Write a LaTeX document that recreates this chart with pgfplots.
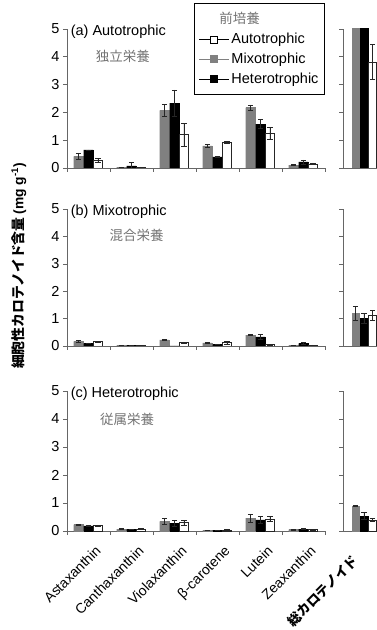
\documentclass[border=0pt]{standalone}
\usepackage{fontspec}
\setmainfont{Liberation Sans}
\newfontfamily\cjk{Noto Sans CJK JP}
\usepackage{pgfplots}
\usepackage{pgfplotstable}
\pgfplotsset{compat=1.18}

\pgfplotstableread{
x g ge b be w we
0 0.42 0.12 0.65 0.00 0.27 0.07
1 0.03 0.01 0.08 0.12 0.03 0.01
2 2.07 0.22 2.33 0.48 1.20 0.42
3 0.80 0.05 0.40 0.02 0.93 0.04
4 2.17 0.10 1.58 0.17 1.25 0.22
5 0.10 0.02 0.22 0.07 0.15 0.03
}\tA
\pgfplotstableread{
x g ge b be w we
0 6.00 0.00 5.60 0.00 3.82 0.63
}\tAt
\pgfplotstableread{
x g ge b be w we
0 0.17 0.02 0.10 0.01 0.16 0.02
1 0.02 0.00 0.02 0.00 0.02 0.00
2 0.22 0.02 0.00 0.00 0.12 0.03
3 0.11 0.02 0.06 0.01 0.12 0.05
4 0.40 0.02 0.33 0.10 0.05 0.01
5 0.02 0.00 0.10 0.02 0.03 0.01
}\tB
\pgfplotstableread{
x g ge b be w we
0 1.19 0.25 1.01 0.17 1.12 0.18
}\tBt
\pgfplotstableread{
x g ge b be w we
0 0.23 0.02 0.18 0.02 0.20 0.02
1 0.07 0.01 0.06 0.01 0.07 0.01
2 0.34 0.10 0.28 0.10 0.30 0.08
3 0.02 0.00 0.02 0.00 0.04 0.01
4 0.46 0.15 0.40 0.13 0.43 0.10
5 0.05 0.01 0.07 0.01 0.05 0.01
}\tC
\pgfplotstableread{
x g ge b be w we
0 0.90 0.01 0.54 0.13 0.39 0.06
}\tCt

\pgfplotsset{
  panel/.style={scale only axis, ymin=0, ymax=5, ytick={0,...,5},
    clip mode=individual,
    axis y line*=left, axis x line*=bottom,
    axis line style={black!60, line width=0.7pt},
    tick align=outside, major tick length=4pt,
    tick style={black!60, line width=0.6pt},
    ticklabel style={font=\fontsize{14.5}{14.5}\selectfont},
    /pgf/number format/assume math mode=true,
    error bars/error bar style={black!85, line width=0.6pt},
    error bars/error mark options={rotate=90, mark size=2.6pt, black!85, line width=0.6pt}},
  leftp/.style={panel, width=258pt, xmin=-0.5, xmax=5.5, xtick={0,...,5}, xticklabels={},
    major x tick style={draw=none}, minor xtick={-0.5,0.5,1.5,2.5,3.5,4.5,5.5}, minor tick length=4pt},
  rightp/.style={panel, width=34pt, xmin=-0.5, xmax=0.31, xtick=\empty, yticklabels={}},
  gbar/.style={ybar, fill=black!50, draw=black!50, bar shift=0pt},
  bbar/.style={ybar, fill=black, draw=black, bar shift=0pt},
  wbar/.style={ybar, fill=white, draw=black!85, line width=0.6pt, bar shift=0pt},
  myleg/.style={legend image code/.code={\draw[mark repeat=2,mark phase=2,##1] plot coordinates {(0pt,0pt) (15pt,0pt) (30pt,0pt)};}},
}
\newcommand{\leftbars}[1]{%
  \addplot[gbar, forget plot, bar width=9.5pt, error bars/.cd, y dir=both, y explicit] table[x expr=\thisrow{x}-0.2326, y=g, y error=ge]{#1};
  \addplot[bbar, forget plot, bar width=9.5pt, error bars/.cd, y dir=both, y explicit] table[x=x, y=b, y error=be]{#1};
  \addplot[wbar, forget plot, bar width=9.5pt, error bars/.cd, y dir=both, y explicit] table[x expr=\thisrow{x}+0.2209, y=w, y error=we]{#1};
}
\newcommand{\rightbars}[1]{%
  \addplot[gbar, forget plot, bar width=7.5pt, error bars/.cd, y dir=both, y explicit] table[x expr=\thisrow{x}-0.2024, y=g, y error=ge]{#1};
  \addplot[bbar, forget plot, bar width=7.5pt, error bars/.cd, y dir=both, y explicit] table[x=x, y=b, y error=be]{#1};
  \addplot[wbar, forget plot, bar width=7.5pt, error bars/.cd, y dir=both, y explicit] table[x expr=\thisrow{x}+0.2024, y=w, y error=we]{#1};
}

\begin{document}
\begin{tikzpicture}
\useasboundingbox (0,0) rectangle (377pt,630pt);

% ---- panel a ----
\begin{axis}[leftp, at={(67pt,462pt)}, anchor=south west, height=139pt,
  legend style={at={(1,1.187)}, anchor=north east, draw=black, line width=1pt,
    font=\fontsize{14.5}{14.5}\selectfont, cells={anchor=west}, row sep=4pt,
    inner xsep=4pt, inner ysep=7pt},
  legend cell align=left]
\leftbars{\tA}
\addlegendimage{empty legend}
\addlegendentry{\hspace{-12pt}{\cjk\fontsize{13.5}{13.5}\selectfont\color{black!55}前培養}}
\addlegendimage{myleg, black, line width=0.9pt, mark=square*, mark size=3.5pt, mark options={fill=white, draw=black, line width=0.6pt}}
\addlegendentry{Autotrophic}
\addlegendimage{myleg, black!50, line width=0.9pt, mark=square*, mark size=3.5pt, mark options={fill=black!50, draw=black!50}}
\addlegendentry{Mixotrophic}
\addlegendimage{myleg, black, line width=0.9pt, mark=square*, mark size=3.5pt, mark options={fill=black, draw=black}}
\addlegendentry{Heterotrophic}
\node[anchor=west, font=\fontsize{14.5}{14.5}\selectfont, inner sep=1pt] at (rel axis cs:0.01,0.98) {(a) Autotrophic};
\node[font=\cjk\fontsize{13.5}{13.5}\selectfont, text=black!55] at (rel axis cs:0.217,0.80) {独立栄養};
\end{axis}
\begin{axis}[rightp, at={(343pt,462pt)}, anchor=south west, height=139pt]
\rightbars{\tAt}
\end{axis}

% ---- panel b ----
\begin{axis}[leftp, at={(67pt,284pt)}, anchor=south west, height=137pt]
\leftbars{\tB}
\node[anchor=west, font=\fontsize{14.5}{14.5}\selectfont, inner sep=1pt] at (rel axis cs:0.01,0.98) {(b) Mixotrophic};
\node[font=\cjk\fontsize{13.5}{13.5}\selectfont, text=black!55] at (rel axis cs:0.27,0.81) {混合栄養};
\end{axis}
\begin{axis}[rightp, at={(343pt,284pt)}, anchor=south west, height=137pt]
\rightbars{\tBt}
\end{axis}

% ---- panel c ----
\begin{axis}[leftp, at={(67pt,99pt)}, anchor=south west, height=140pt,
  xticklabels={Astaxanthin, Canthaxanthin, Violaxanthin, β-carotene, Lutein, Zeaxanthin},
  xticklabel style={xshift=6pt, yshift=-8pt, rotate=45, anchor=north east, inner sep=1pt, font=\fontsize{14}{14}\selectfont}]
\leftbars{\tC}
\node[anchor=west, font=\fontsize{14.5}{14.5}\selectfont, inner sep=1pt] at (rel axis cs:0.01,0.98) {(c) Heterotrophic};
\node[font=\cjk\fontsize{13.5}{13.5}\selectfont, text=black!55] at (rel axis cs:0.233,0.80) {従属栄養};
\end{axis}
\begin{axis}[rightp, at={(343pt,99pt)}, anchor=south west, height=140pt,
  xtick={0}, xticklabels={総カロテノイド}, major x tick style={draw=none},
  xticklabel style={xshift=-13pt, yshift=-17pt, rotate=45, anchor=north east, inner sep=1pt, font=\cjk\bfseries\fontsize{13.3}{13.3}\selectfont}]
\rightbars{\tCt}
\end{axis}

\node[rotate=90, font=\cjk\bfseries\fontsize{13.8}{13.8}\selectfont] at (19pt,364pt)
  {細胞性カロテノイド含量 {\rmfamily\bfseries (mg g\textsuperscript{-1})}};
\end{tikzpicture}
\end{document}
